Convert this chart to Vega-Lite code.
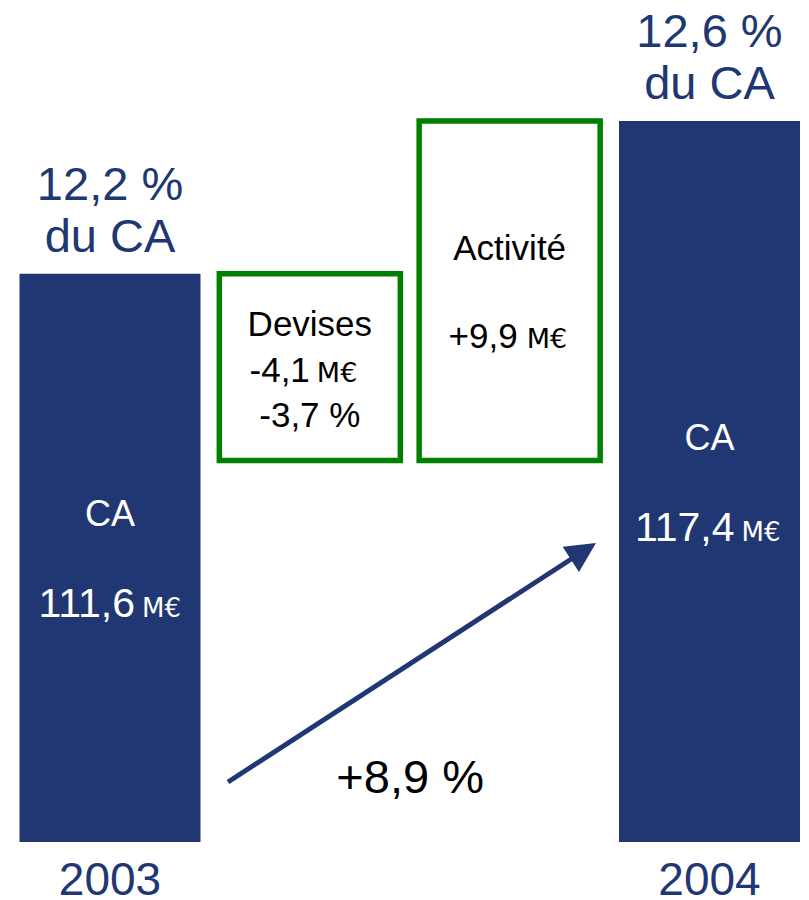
{
  "$schema": "https://vega.github.io/schema/vega-lite/v6.json",
  "width": 809,
  "height": 842,
  "padding": {"left": 0, "top": 0, "right": 0, "bottom": 58},
  "autosize": {"type": "none"},
  "background": "white",
  "config": {"view": {"stroke": null}, "font": "Liberation Sans", "text": {"font": "Liberation Sans"}},
  "datasets": {
    "steps": [
      {"cat": "2003", "kind": "total", "start": 90, "end": 111.6, "share": "12,2 %", "amount": "111,6", "unit": "M€"},
      {"cat": "Devises", "kind": "delta", "start": 111.6, "end": 104.5, "name": "Devises", "amount": "-4,1", "unit": "M€", "pct": "-3,7 %"},
      {"cat": "Activité", "kind": "delta", "start": 104.5, "end": 117.4, "name": "Activité", "amount": "+9,9", "unit": "M€"},
      {"cat": "2004", "kind": "total", "start": 90, "end": 117.4, "share": "12,6 %", "amount": "117,4", "unit": "M€"}
    ],
    "arrow": [
      {"from": "Devises", "to": "Activité", "y0": 92.28, "y1": 101.24, "growth": "+8,9 %"}
    ]
  },
  "data": {"name": "steps"},
  "layer": [
    {
      "transform": [{"filter": "datum.kind === 'total'"}],
      "mark": {"type": "bar", "color": "#203773"},
      "encoding": {
        "x": {
          "field": "cat", "type": "nominal", "sort": null,
          "scale": {"domain": ["2003", "Devises", "Activité", "2004"], "range": [19.5, 800], "paddingInner": 0.0942, "paddingOuter": 0},
          "axis": null
        },
        "y": {"field": "end", "type": "quantitative", "scale": {"domain": [90, 122], "nice": false, "zero": false}, "axis": null},
        "y2": {"field": "start"}
      }
    },
    {
      "transform": [{"filter": "datum.kind === 'delta'"}],
      "mark": {"type": "bar", "fill": "white", "stroke": "#008000", "strokeWidth": 5.5},
      "encoding": {
        "x": {"field": "cat", "type": "nominal", "axis": null},
        "y": {"field": "end", "type": "quantitative", "axis": null},
        "y2": {"field": "start"}
      }
    },
    {
      "transform": [{"filter": "datum.kind === 'total'"}],
      "mark": {"type": "text", "baseline": "alphabetic", "align": "center", "dy": 53, "fontSize": 46, "color": "#203773"},
      "encoding": {
        "x": {"field": "cat", "type": "nominal", "bandPosition": 0.5, "axis": null},
        "y": {"field": "start", "type": "quantitative", "axis": null},
        "text": {"field": "cat"}
      }
    },
    {
      "transform": [{"filter": "datum.kind === 'total'"}],
      "mark": {"type": "text", "baseline": "alphabetic", "align": "center", "dy": -74, "fontSize": 47, "color": "#203773"},
      "encoding": {
        "x": {"field": "cat", "type": "nominal", "bandPosition": 0.5, "axis": null},
        "y": {"field": "end", "type": "quantitative", "axis": null},
        "text": {"field": "share"}
      }
    },
    {
      "transform": [{"filter": "datum.kind === 'total'"}],
      "mark": {"type": "text", "baseline": "alphabetic", "align": "center", "dy": -22, "fontSize": 47, "color": "#203773"},
      "encoding": {
        "x": {"field": "cat", "type": "nominal", "bandPosition": 0.5, "axis": null},
        "y": {"field": "end", "type": "quantitative", "axis": null},
        "text": {"value": "du CA"}
      }
    },
    {
      "transform": [{"filter": "datum.kind === 'total'"}, {"calculate": "(datum.start + datum.end) / 2", "as": "mid"}],
      "mark": {"type": "text", "baseline": "alphabetic", "align": "center", "dy": -32, "fontSize": 36, "color": "white"},
      "encoding": {
        "x": {"field": "cat", "type": "nominal", "bandPosition": 0.5, "axis": null},
        "y": {"field": "mid", "type": "quantitative", "axis": null},
        "text": {"value": "CA"}
      }
    },
    {
      "transform": [{"filter": "datum.kind === 'total'"}, {"calculate": "(datum.start + datum.end) / 2", "as": "mid"}],
      "mark": {"type": "text", "baseline": "alphabetic", "align": "right", "dx": 25, "dy": 59, "fontSize": 41, "color": "white"},
      "encoding": {
        "x": {"field": "cat", "type": "nominal", "bandPosition": 0.5, "axis": null},
        "y": {"field": "mid", "type": "quantitative", "axis": null},
        "text": {"field": "amount"}
      }
    },
    {
      "transform": [{"filter": "datum.kind === 'total'"}, {"calculate": "(datum.start + datum.end) / 2", "as": "mid"}],
      "mark": {"type": "text", "baseline": "alphabetic", "align": "left", "dx": 32, "dy": 59, "fontSize": 26, "font": "DejaVu Sans", "color": "white"},
      "encoding": {
        "x": {"field": "cat", "type": "nominal", "bandPosition": 0.5, "axis": null},
        "y": {"field": "mid", "type": "quantitative", "axis": null},
        "text": {"field": "unit"}
      }
    },
    {
      "transform": [{"filter": "datum.kind === 'delta'"}, {"calculate": "(datum.start + datum.end) / 2", "as": "mid"}],
      "mark": {"type": "text", "baseline": "alphabetic", "align": "center", "dy": -31, "fontSize": 35, "color": "black"},
      "encoding": {
        "x": {"field": "cat", "type": "nominal", "bandPosition": 0.5, "axis": null},
        "y": {"field": "mid", "type": "quantitative", "axis": null},
        "text": {"field": "name"}
      }
    },
    {
      "transform": [{"filter": "datum.cat === 'Devises'"}, {"calculate": "(datum.start + datum.end) / 2", "as": "mid"}],
      "mark": {"type": "text", "baseline": "alphabetic", "align": "right", "dx": 0, "dy": 15, "fontSize": 35, "color": "black"},
      "encoding": {
        "x": {"field": "cat", "type": "nominal", "bandPosition": 0.5, "axis": null},
        "y": {"field": "mid", "type": "quantitative", "axis": null},
        "text": {"field": "amount"}
      }
    },
    {
      "transform": [{"filter": "datum.cat === 'Devises'"}, {"calculate": "(datum.start + datum.end) / 2", "as": "mid"}],
      "mark": {"type": "text", "baseline": "alphabetic", "align": "left", "dx": 7, "dy": 15, "fontSize": 27, "font": "DejaVu Sans", "color": "black"},
      "encoding": {
        "x": {"field": "cat", "type": "nominal", "bandPosition": 0.5, "axis": null},
        "y": {"field": "mid", "type": "quantitative", "axis": null},
        "text": {"field": "unit"}
      }
    },
    {
      "transform": [{"filter": "datum.cat === 'Devises'"}, {"calculate": "(datum.start + datum.end) / 2", "as": "mid"}],
      "mark": {"type": "text", "baseline": "alphabetic", "align": "center", "dy": 60, "fontSize": 35, "color": "black"},
      "encoding": {
        "x": {"field": "cat", "type": "nominal", "bandPosition": 0.5, "axis": null},
        "y": {"field": "mid", "type": "quantitative", "axis": null},
        "text": {"field": "pct"}
      }
    },
    {
      "transform": [{"filter": "datum.cat === 'Activité'"}, {"calculate": "(datum.start + datum.end) / 2", "as": "mid"}],
      "mark": {"type": "text", "baseline": "alphabetic", "align": "right", "dx": 8, "dy": 57, "fontSize": 35, "color": "black"},
      "encoding": {
        "x": {"field": "cat", "type": "nominal", "bandPosition": 0.5, "axis": null},
        "y": {"field": "mid", "type": "quantitative", "axis": null},
        "text": {"field": "amount"}
      }
    },
    {
      "transform": [{"filter": "datum.cat === 'Activité'"}, {"calculate": "(datum.start + datum.end) / 2", "as": "mid"}],
      "mark": {"type": "text", "baseline": "alphabetic", "align": "left", "dx": 17, "dy": 57, "fontSize": 27, "font": "DejaVu Sans", "color": "black"},
      "encoding": {
        "x": {"field": "cat", "type": "nominal", "bandPosition": 0.5, "axis": null},
        "y": {"field": "mid", "type": "quantitative", "axis": null},
        "text": {"field": "unit"}
      }
    },
    {
      "data": {"name": "arrow"},
      "mark": {"type": "rule", "color": "#203773", "strokeWidth": 5, "strokeCap": "butt"},
      "encoding": {
        "x": {"field": "from", "type": "nominal", "bandPosition": 0.048, "axis": null},
        "x2": {"field": "to", "bandPosition": 0.949},
        "y": {"field": "y0", "type": "quantitative", "axis": null},
        "y2": {"field": "y1"}
      }
    },
    {
      "data": {"name": "arrow"},
      "mark": {"type": "point", "shape": "M0,-0.4L-1,1.6L1,1.6Z", "filled": true, "opacity": 1, "color": "#203773", "size": 900, "angle": 57, "strokeWidth": 0},
      "encoding": {
        "x": {"field": "to", "type": "nominal", "bandPosition": 0.949, "axis": null},
        "y": {"field": "y1", "type": "quantitative", "axis": null}
      }
    },
    {
      "data": {"name": "arrow"},
      "mark": {"type": "text", "baseline": "alphabetic", "align": "center", "dy": 11, "fontSize": 47, "color": "black"},
      "encoding": {
        "x": {"field": "to", "type": "nominal", "bandPosition": -0.05, "axis": null},
        "y": {"field": "y0", "type": "quantitative", "axis": null},
        "text": {"field": "growth"}
      }
    }
  ]
}
